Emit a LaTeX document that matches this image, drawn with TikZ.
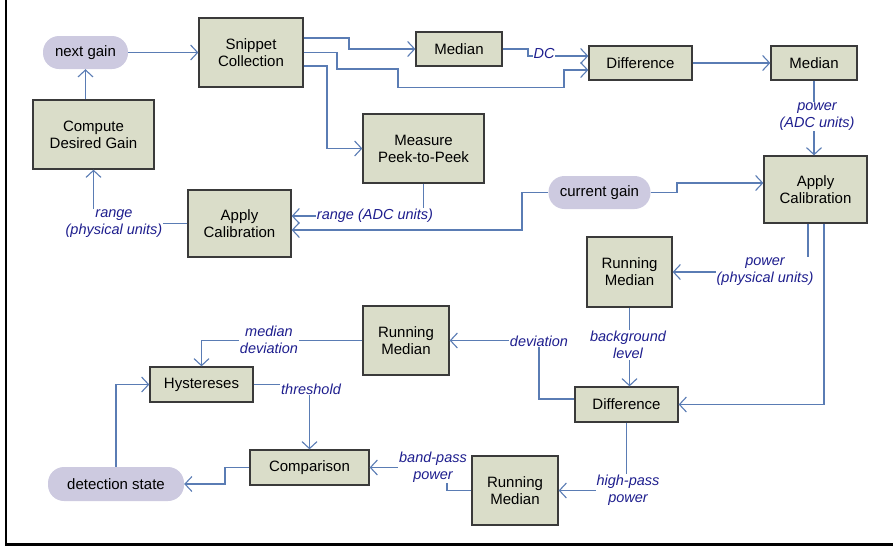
\documentclass[tikz,border=0pt]{standalone}
\usepackage{fontspec}
\setmainfont{Liberation Sans}
\setsansfont{Liberation Sans}
\usetikzlibrary{arrows.meta}
\definecolor{boxfill}{HTML}{DADDC9}
\definecolor{boxline}{HTML}{3A3A3A}
\definecolor{pillfill}{HTML}{CDCAE0}
\definecolor{edgecol}{HTML}{5A7CB4}
\definecolor{labcol}{HTML}{1E1E8E}
\tikzset{
  proc/.style={draw=boxline, line width=1.3pt, fill=boxfill, inner sep=0pt, align=center,
    font=\fontsize{15}{17}\selectfont},
  pill/.style={fill=pillfill, rounded corners=16pt, inner sep=0pt, align=center,
    font=\fontsize{15}{17}\selectfont},
  edge/.style={draw=edgecol, line width=1.3pt,
    -{Straight Barb[length=7pt,width=15pt,line width=1.1pt]}},
  lab/.style={fill=white, inner sep=1pt, align=center, text=labcol,
    font=\fontsize{14.5}{17}\selectfont\itshape}
}
\begin{document}
\begin{tikzpicture}[x=1pt,y=-1pt]
\useasboundingbox (0,0) rectangle (893,549);
\draw[line width=2.6pt] (6,0) -- (6,544.5) -- (893,544.5);

% nodes
\node[pill, minimum width=85pt, minimum height=33pt] (ngain) at (85.5,52.5) {next gain};
\node[proc, minimum width=104pt, minimum height=69pt] (snip) at (251,52.5) {Snippet\\Collection};
\node[proc, minimum width=86pt, minimum height=34pt] (med1) at (459,49) {Median};
\node[proc, minimum width=103pt, minimum height=34pt] (diff1) at (640.5,63) {Difference};
\node[proc, minimum width=86pt, minimum height=34pt] (med2) at (814,63) {Median};
\node[proc, minimum width=121pt, minimum height=69pt] (comp) at (93.5,134.5) {Compute\\Desired Gain};
\node[proc, minimum width=121pt, minimum height=69pt] (meas) at (423.5,148.5) {Measure\\Peek-to-Peek};
\node[proc, minimum width=103pt, minimum height=67pt] (cal1) at (239.5,223.5) {Apply\\Calibration};
\node[pill, minimum width=102pt, minimum height=33pt] (cgain) at (599.5,192.5) {current gain};
\node[proc, minimum width=103pt, minimum height=67pt] (cal2) at (815.5,189.5) {Apply\\Calibration};
\node[proc, minimum width=85pt, minimum height=70pt] (rm1) at (629.5,272) {Running\\Median};
\node[proc, minimum width=86pt, minimum height=69pt] (rm2) at (406,340.5) {Running\\Median};
\node[proc, minimum width=103pt, minimum height=35pt] (hyst) at (201.5,384.5) {Hystereses};
\node[proc, minimum width=103pt, minimum height=35pt] (diff2) at (626.5,404.5) {Difference};
\node[proc, minimum width=119pt, minimum height=35pt] (compar) at (309.5,467.5) {Comparison};
\node[pill, minimum width=136pt, minimum height=34pt] (dstate) at (116,484) {detection state};
\node[proc, minimum width=86pt, minimum height=69pt] (rm3) at (515,490.5) {Running\\Median};

% connectors
\draw[edge] (ngain.east) -- (snip.west);
\draw[edge] (comp.north -| ngain.south) -- (ngain.south);
\draw[edge] (snip.east |- 0,38) -- (349,38) |- (med1.west);
\draw[edge] (snip.east) -- (337,52.5) -- (337,69) -- (398,69) -- (398,87.5) -- (564,87.5) |- (diff1.west |- 0,70);
\draw[edge] (snip.east |- 0,66) -- (327,66) |- (meas.west);
\draw[edge] (med1.east) -- (528,49) -- (528,56) -- (diff1.west |- 0,56);
\draw[edge] (diff1.east) -- (med2.west);
\draw[edge] (med2.south) -- (med2.south |- cal2.north);
\draw[edge] (cgain.east) -- (677,192.5) |- (cal2.west |- 0,183);
\draw[edge] (cgain.west) -- (522,192.5) |- (cal1.east |- 0,230);
\draw[edge] (meas.south) |- (cal1.east |- 0,216);
\draw[edge] (cal1.west) -| (comp.south);
\draw[edge] (cal2.south -| 808,0) |- (rm1.east);
\draw[edge] (cal2.south -| 824,0) |- (diff2.east);
\draw[edge] (rm1.south) -- (rm1.south |- diff2.north);
\draw[edge] (diff2.west |- 0,399) -- (539,399) |- (rm2.east);
\draw[edge] (rm2.west) -| (hyst.north);
\draw[edge] (hyst.east) -| (compar.north);
\draw[edge] (rm3.west) -- (447,490.5) |- (compar.east);
\draw[edge] (diff2.south) |- (rm3.east);
\draw[edge] (compar.west) -- (225,467.5) |- (dstate.east);
\draw[edge] (dstate.north) |- (hyst.west);

% labels
\node[lab] (lDC) at (544,54) {DC};
\node[lab] (lpadc) at (817,116.5) {power\\(ADC units)};
\node[lab] (lradc) at (375,216) {range (ADC units)};
\node[lab] (lrphys) at (114,223.5) {range\\(physical units)};
\node[lab] (lpphys) at (765,271.5) {power\\(physical units)};
\node[lab] (lbg) at (628,345) {background\\level};
\node[lab] (ldev) at (539,341) {deviation};
\node[lab] (lmdev) at (269,340) {median\\deviation};
\node[lab] (lthr) at (311,389) {threshold};
\node[lab] (lbp) at (433,467) {band-pass\\power};
\node[lab] (lhp) at (628,490.5) {high-pass\\power};
\end{tikzpicture}
\end{document}
